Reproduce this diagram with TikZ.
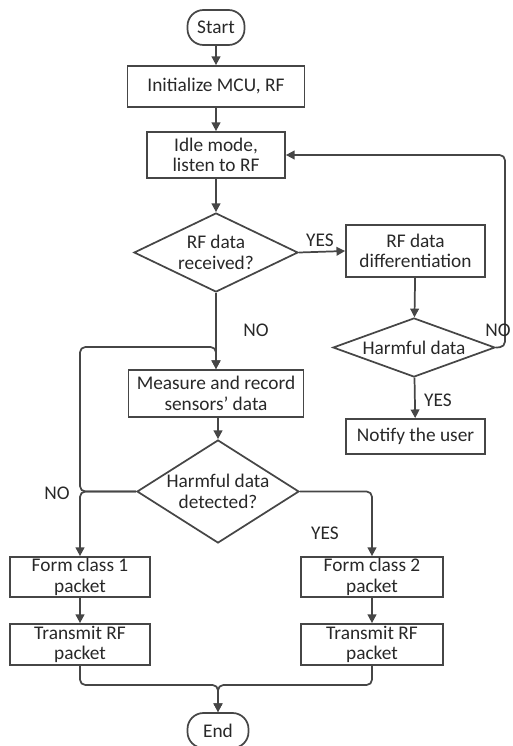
\documentclass[tikz,border=0pt]{standalone}
\usepackage{fontspec}
\setmainfont{Carlito}
\usetikzlibrary{shapes.geometric,arrows.meta}

\definecolor{flowline}{RGB}{70,70,70}
\definecolor{flowtext}{RGB}{40,40,40}

\tikzset{every picture/.style={line width=1.3pt}}
\tikzset{
procbox/.style={draw=flowline, rectangle, inner sep=0pt, align=center,
  text=flowtext, font=\fontsize{14.5}{15.5}\selectfont},
termbox/.style={procbox, rounded corners=12pt},
decbox/.style={procbox, diamond},
flowarrow/.style={draw=flowline, -{Triangle[length=6.5pt,width=6.5pt]}, rounded corners=4pt},
flowlabel/.style={text=flowtext, inner sep=0pt, font=\fontsize{14.5}{15.5}\selectfont}}

\begin{document}
\begin{tikzpicture}[x=0.75pt,y=0.75pt,yscale=-1,xscale=1]
\useasboundingbox (0,0) rectangle (513,746);

%Flowchart: Terminator
\node [termbox, minimum width=42.75pt, minimum height=26.25pt] (start) at (216,27.5) {Start};
%Flowchart: Process
\node [procbox, minimum width=132.75pt, minimum height=30.75pt] (init) at (216,86.5) {Initialize MCU, RF};
\node [procbox, minimum width=103.5pt, minimum height=34.5pt] (idle) at (216,155) {Idle mode,\\listen to RF};
%Flowchart: Decision
\node [decbox, aspect=2, minimum width=123pt, minimum height=59.25pt] (rfdec) at (216,252.5) {RF data\\received?};
\node [procbox, minimum width=104.25pt, minimum height=39pt] (rfdiff) at (415.5,251) {RF data\\differentiation};
\node [decbox, aspect=3, minimum width=121.5pt, minimum height=44.25pt] (harm) at (414,347.5) {Harmful data};
\node [procbox, minimum width=104.25pt, minimum height=26.25pt] (notify) at (415.5,436.5) {Notify the user};
\node [procbox, minimum width=131.25pt, minimum height=35.25pt] (measure) at (216,393.5) {Measure and record\\sensors' data};
\node [decbox, aspect=1.6, minimum width=121.5pt, minimum height=77.25pt] (detect) at (218,491.5) {Harmful data\\detected?};
\node [procbox, minimum width=105pt, minimum height=30pt] (formA) at (80,577) {Form class 1\\packet};
\node [procbox, minimum width=106.5pt, minimum height=30pt] (formB) at (372,577) {Form class 2\\packet};
\node [procbox, minimum width=105pt, minimum height=30.75pt] (sendA) at (80,644.5) {Transmit RF\\packet};
\node [procbox, minimum width=106.5pt, minimum height=30.75pt] (sendB) at (372,644.5) {Transmit RF\\packet};
\node [termbox, minimum width=45.75pt, minimum height=26.25pt] (stop) at (218,730.5) {End};

%Join points
\coordinate (nojoin) at (216,347);
\coordinate (loopup) at (505,347);
\coordinate (merge) at (218,685);

%Connectors
\draw [flowarrow] (start) -- (init);
\draw [flowarrow] (init) -- (idle);
\draw [flowarrow] (idle) -- (rfdec);
\draw [flowarrow] (rfdec.east) -- (rfdiff.west);
\draw [flowarrow] (rfdiff) -- (harm);
\draw [flowarrow] (harm.east) -- (loopup) |- (idle.east);
\draw [flowarrow] (harm) -- (notify);
\draw [flowarrow] (rfdec.south) -- (measure.north);
\draw [flowarrow] (detect.west) -| (formA.north |- nojoin) -- (nojoin) -- (measure.north);
\draw [flowarrow] (measure.south -| detect.north) -- (detect.north);
\draw [flowarrow] (detect.west) -| (formA.north);
\draw [flowarrow] (detect.east) -| (formB.north);
\draw [flowarrow] (formA) -- (sendA);
\draw [flowarrow] (formB) -- (sendB);
\draw [flowarrow] (sendA.south) |- (merge) -- (stop.north);
\draw [flowarrow] (sendB.south) |- (merge) -- (stop.north);

% Text Node
\node [flowlabel] (yesA) at (320,240) {YES};
\node [flowlabel] (noA) at (256,330) {NO};
\node [flowlabel] (noB) at (498,330) {NO};
\node [flowlabel] (yesB) at (438,400) {YES};
\node [flowlabel] (noC) at (57,493) {NO};
\node [flowlabel] (yesC) at (325,533) {YES};

\end{tikzpicture}
\end{document}
